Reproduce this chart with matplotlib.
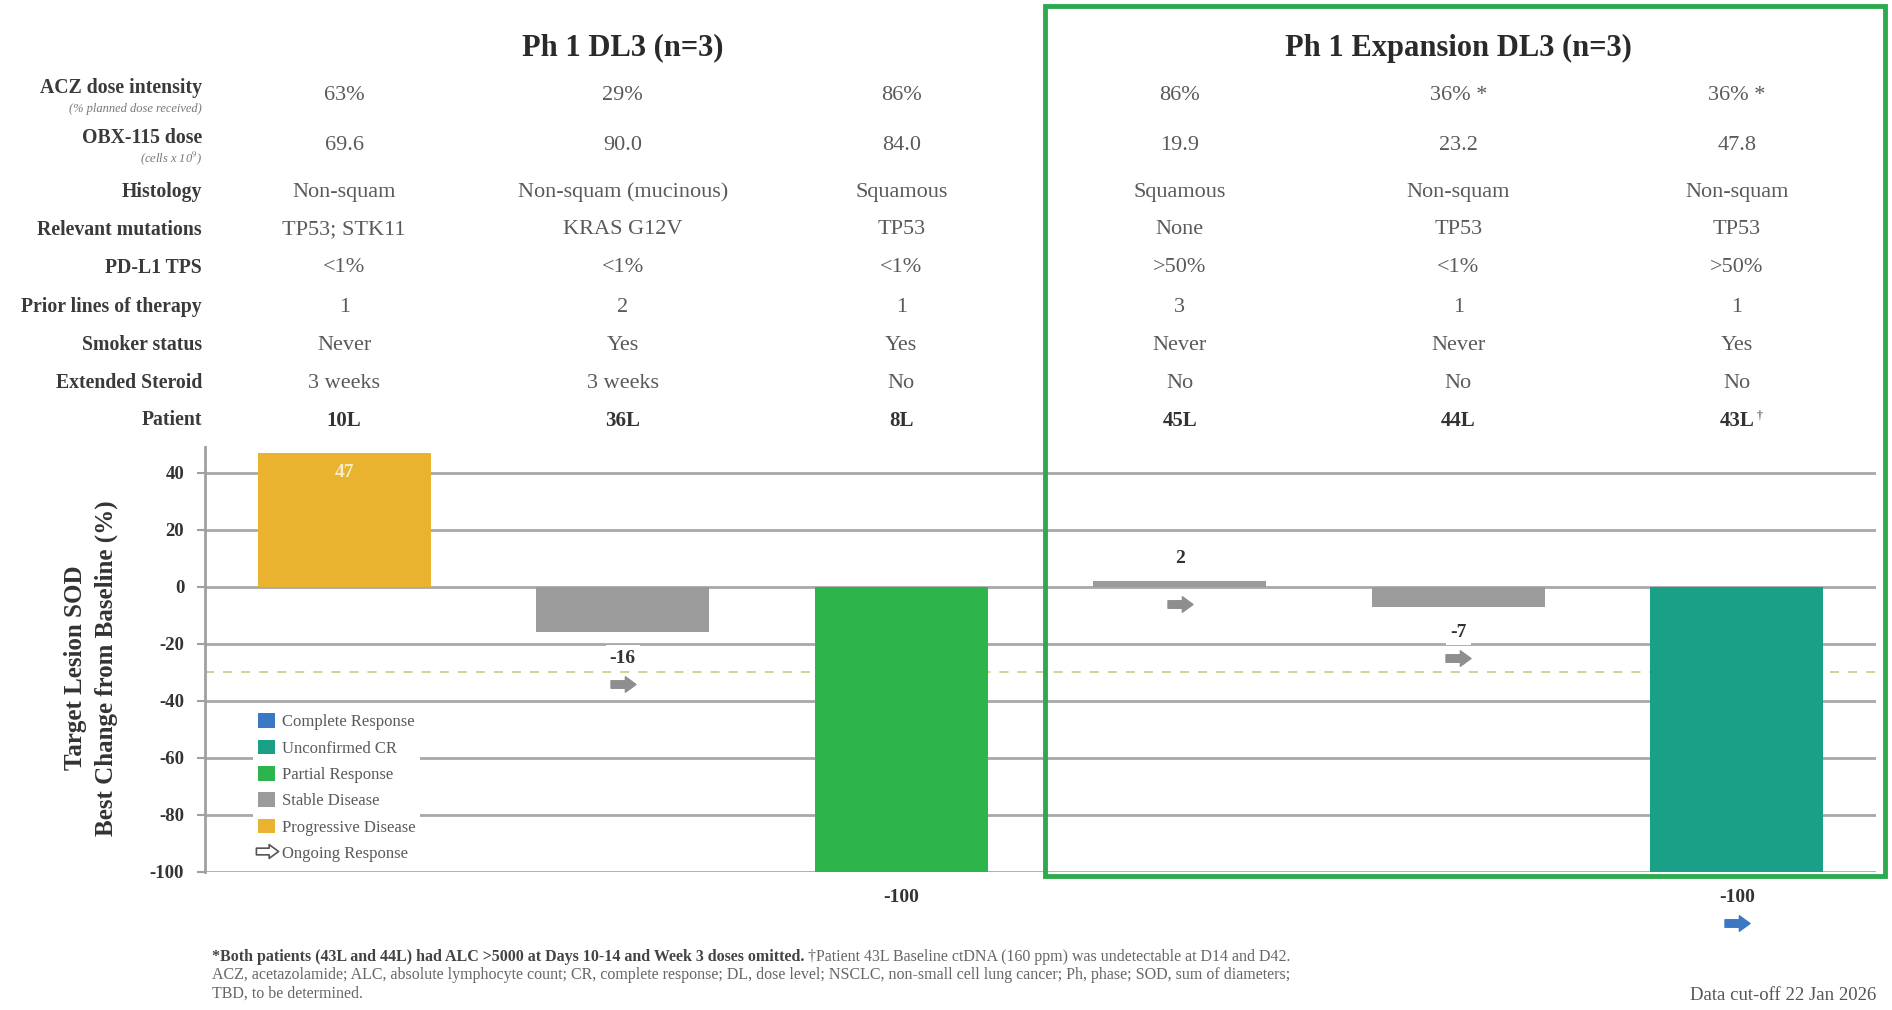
import numpy as np
import matplotlib
matplotlib.use('Agg')
import matplotlib.pyplot as plt
import matplotlib.transforms as mtransforms
from matplotlib.path import Path
from matplotlib.patches import Patch, Rectangle
from matplotlib.lines import Line2D

plt.rcParams['font.family'] = ['Liberation Serif', 'DejaVu Serif']
plt.rcParams['mathtext.fontset'] = 'stix'
plt.rcParams['axes.unicode_minus'] = False

# patient table
row_labels = ['ACZ dose intensity', 'OBX-115 dose', 'Histology', 'Relevant mutations', 'PD-L1 TPS',
              'Prior lines of therapy', 'Smoker status', 'Extended Steroid', 'Patient']
sub_labels = ['(% planned dose received)', r'(cells x 10$^{9}$)']
acz = ['63%', '29%', '86%', '86%', '36% *', '36% *']
obx = ['69.6', '90.0', '84.0', '19.9', '23.2', '47.8']
histology = ['Non-squam', 'Non-squam (mucinous)', 'Squamous', 'Squamous', 'Non-squam', 'Non-squam']
mutations = ['TP53; STK11', 'KRAS G12V', 'TP53', 'None', 'TP53', 'TP53']
pdl1 = ['<1%', '<1%', '<1%', '>50%', '<1%', '>50%']
prior_lines = ['1', '2', '1', '3', '1', '1']
smoker = ['Never', 'Yes', 'Yes', 'Never', 'Never', 'Yes']
steroid = ['3 weeks', '3 weeks', 'No', 'No', 'No', 'No']
patients = ['10L', '36L', '8L', '45L', '44L', '43L']
patient_marks = ['', '', '', '', '', '\u2020']

# waterfall
change = [47, -16, -100, 2, -7, -100]
response = ['PD', 'SD', 'PR', 'SD', 'SD', 'uCR']
ongoing = [False, True, False, True, True, True]

resp_names = ['Complete Response', 'Unconfirmed CR', 'Partial Response', 'Stable Disease', 'Progressive Disease']
resp_keys = ['CR', 'uCR', 'PR', 'SD', 'PD']
resp_colors = {'CR': '#3b78c3', 'uCR': '#19a086', 'PR': '#2db44a', 'SD': '#9b9b9b', 'PD': '#e9b22f'}

W, H = 1892, 1010
fig = plt.figure(figsize=(W / 100, H / 100), dpi=100)
ax = fig.add_axes([205 / W, 1 - 872 / H, (1876 - 205) / W, (872 - 447) / H])

x = np.arange(len(change))
ax.bar(x, change, width=0.62, color=[resp_colors[r] for r in response], zorder=3)

ax.set_xlim(-0.5, 5.5)
ax.set_ylim(-100, 49)
ax.set_yticks(np.arange(-100, 41, 20))
ax.set_xticks([])
for s in ['top', 'right', 'bottom']:
    ax.spines[s].set_visible(False)
ax.spines['left'].set_color('#a0a0a0')
ax.spines['left'].set_linewidth(2)
ax.yaxis.grid(True, color='#a8a8a8', lw=2, zorder=1)
ax.tick_params(axis='y', length=6, width=1.5, color='#a0a0a0', labelsize=13.5, labelcolor='#333333', pad=9)
for lab in ax.get_yticklabels():
    lab.set_fontweight('bold')
ax.axhline(-30, color='#cbd08c', lw=1.3, ls=(0, (5, 5)), zorder=2)

ax.set_ylabel('Target Lesion SOD\nBest Change from Baseline (%)', fontsize=18, fontweight='bold',
              color='#333333', linespacing=1.4)
ax.yaxis.set_label_coords(-0.052, 0.48)

# value labels and ongoing-response arrows
arrow = Path([(-1, -0.3), (0.15, -0.3), (0.15, -0.62), (1, 0), (0.15, 0.62), (0.15, 0.3), (-1, 0.3), (-1, -0.3)],
             [Path.MOVETO] + [Path.LINETO] * 6 + [Path.CLOSEPOLY])
for i, v in enumerate(change):
    if v >= 20:
        ax.text(i, v - 7, str(v), ha='center', va='center', fontsize=14, fontweight='bold',
                color='#f6ecc8', zorder=4)
    elif v >= 0:
        ax.text(i, v + 8, str(v), ha='center', va='center', fontsize=14, fontweight='bold',
                color='#333333', zorder=4)
    else:
        ax.text(i, v - 9, str(v), ha='center', va='center', fontsize=14, fontweight='bold',
                color='#333333', zorder=4, clip_on=False,
                bbox=dict(facecolor='white', edgecolor='none', pad=3))
    if ongoing[i]:
        ay = -6 if 0 <= v < 20 else v - 18
        col = '#8e8e8e' if response[i] == 'SD' else '#3b78c3'
        ax.plot(i, ay, marker=arrow, ms=18, color=col, mec=col, ls='none', zorder=5, clip_on=False)

handles = [Patch(facecolor=resp_colors[k], edgecolor='none') for k in resp_keys]
handles.append(Line2D([], [], marker=arrow, ms=16, mfc='white', mec='#555555', mew=1.2, ls='none'))
leg = ax.legend(handles, resp_names + ['Ongoing Response'], loc='upper left', bbox_to_anchor=(0.024, 0.405),
                fontsize=12, frameon=True, facecolor='white', edgecolor='none', framealpha=1,
                handlelength=1.0, handleheight=1.0, labelspacing=0.55, handletextpad=0.4, borderpad=0.3)
leg.set_zorder(6)
for t in leg.get_texts():
    t.set_color('#5a5a5a')

# table above the chart, columns aligned with the bars
tr = mtransforms.blended_transform_factory(ax.transData, fig.transFigure)
label_y = [88, 138, 192, 230, 268, 307, 345, 383, 420]
value_y = [96, 146, 192, 230, 268, 307, 345, 383, 421]
rows = [acz, obx, histology, mutations, pdl1, prior_lines, smoker, steroid, patients]

for r, name in enumerate(row_labels):
    fig.text(202 / W, 1 - label_y[r] / H, name, ha='right', va='center', fontsize=14.2,
             fontweight='bold', color='#3a3a3a')
fig.text(202 / W, 1 - 109 / H, sub_labels[0], ha='right', va='center', fontsize=9,
         style='italic', color='#777777')
fig.text(202 / W, 1 - 158 / H, sub_labels[1], ha='right', va='center', fontsize=9,
         style='italic', color='#777777')

for r, vals in enumerate(rows):
    last = r == len(rows) - 1
    for c, val in enumerate(vals):
        t = ax.text(c, 1 - value_y[r] / H, val, transform=tr, ha='center', va='center',
                    fontsize=15 if last else 16, fontweight='bold' if last else 'normal',
                    color='#333333' if last else '#5a5a5a')
        if last and patient_marks[c]:
            ax.annotate(patient_marks[c], xy=(1, 0.75), xycoords=t, fontsize=8.5, color='#333333',
                        ha='left', va='center', xytext=(2, 0), textcoords='offset points')

ax.text(1, 1 - 48 / H, 'Ph 1 DL3 (n=3)', transform=tr, ha='center', va='center', fontsize=22,
        fontweight='bold', color='#2a2a2a')
ax.text(4, 1 - 48 / H, 'Ph 1 Expansion DL3 (n=3)', transform=tr, ha='center', va='center', fontsize=22,
        fontweight='bold', color='#2a2a2a')

# green frame round the expansion cohort
fig.patches.append(Rectangle((1045 / W, 1 - 876 / H), 840 / W, 870 / H, transform=fig.transFigure,
                             fill=False, edgecolor='#2eaa4e', lw=3.5))

# footnotes
t1 = fig.text(212 / W, 1 - 957 / H,
              '*Both patients (43L and 44L) had ALC >5000 at Days 10-14 and Week 3 doses omitted. ',
              ha='left', va='center', fontsize=11.5, fontweight='bold', color='#444444')
ax.annotate('\u2020Patient 43L Baseline ctDNA (160 ppm) was undetectable at D14 and D42.',
            xy=(1, 0.5), xycoords=t1, ha='left', va='center', fontsize=11.5, color='#666666')
fig.text(212 / W, 1 - 975 / H,
         'ACZ, acetazolamide; ALC, absolute lymphocyte count; CR, complete response; DL, dose level; '
         'NSCLC, non-small cell lung cancer; Ph, phase; SOD, sum of diameters;',
         ha='left', va='center', fontsize=11.5, color='#666666')
fig.text(212 / W, 1 - 994 / H, 'TBD, to be determined.', ha='left', va='center', fontsize=11.5, color='#666666')
fig.text(1876 / W, 1 - 995 / H, 'Data cut-off 22 Jan 2026', ha='right', va='center', fontsize=13.5,
         color='#555555')

fig.savefig('out.png', dpi=100, facecolor='white')
